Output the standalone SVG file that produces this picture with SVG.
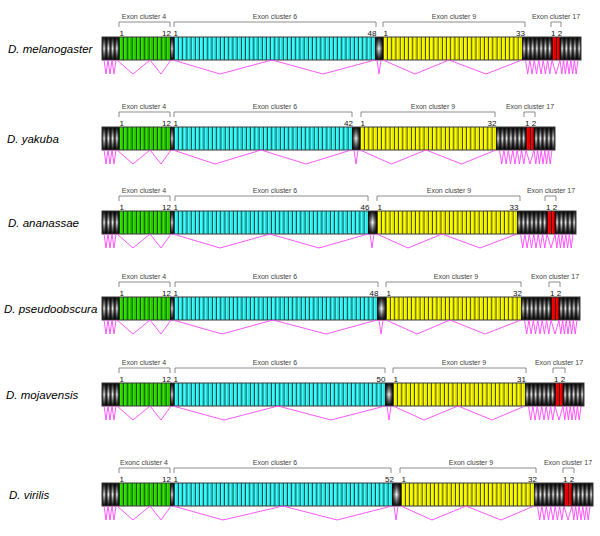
<svg xmlns="http://www.w3.org/2000/svg" width="600" height="536" viewBox="0 0 600 536">
<style>
.lbl{font-family:"Liberation Sans",Arial,sans-serif;font-size:7px;fill:#444;text-anchor:middle}
.num{font-family:"Liberation Sans",Arial,sans-serif;font-size:8px;fill:#111}
.end{text-anchor:end}
.sp{font-family:"Liberation Sans",Arial,sans-serif;font-size:11.5px;font-style:italic;fill:#000}
.br{fill:none;stroke:#808080;stroke-width:0.9}
.spl{fill:none;stroke:#ff45ff;stroke-width:0.9}
.ol{fill:none;stroke:#3a3a3a;stroke-width:1}
.st{fill:none;stroke-width:23}
.blk{stroke:#000}
.gB{fill:#33e600}.gD{stroke:#26bb00}
.cB{fill:#3dffff}.cD{stroke:#2ad4d4}
.yB{fill:#ffff00}.yD{stroke:#dcdc00}
.rB{fill:#ff0000}.rD{stroke:#d40000}
.cyl{fill:url(#cylP)}
.one{fill:url(#cylH)}
.sh{fill:url(#shV)}
</style>
<defs>
<linearGradient id="cylH" x1="0" y1="0" x2="1" y2="0">
<stop offset="0" stop-color="#000"/><stop offset="0.5" stop-color="#f6f6f6"/><stop offset="1" stop-color="#000"/>
</linearGradient>
<linearGradient id="shV" x1="0" y1="0" x2="0" y2="1">
<stop offset="0" stop-color="#000" stop-opacity="0.95"/>
<stop offset="0.25" stop-color="#000" stop-opacity="0.5"/>
<stop offset="0.5" stop-color="#000" stop-opacity="0"/>
<stop offset="0.75" stop-color="#000" stop-opacity="0.5"/>
<stop offset="1" stop-color="#000" stop-opacity="0.95"/>
</linearGradient>
<pattern id="cylP" patternUnits="userSpaceOnUse" width="4.25" height="100">
<rect width="4.25" height="100" fill="url(#cylH)"/>
</pattern>
<g id="headBar">
<rect class="cyl" transform="translate(102,0)" x="0" y="37" width="17" height="23"/>
<rect class="one" x="170" y="37" width="4" height="23"/>
<rect class="sh" x="102" y="37" width="17" height="23"/>
<rect class="sh" x="170" y="37" width="4" height="23"/>
<rect class="gB" x="119" y="37" width="51" height="23"/>
<path class="st gD" d="M119 48.5H170" stroke-dasharray="0 2.6 1.3 0.35"/>
<path class="st blk" d="M119 48.5H170" stroke-dasharray="0.7 3.55"/>
</g>
<g id="tailBar">
<rect class="cyl" transform="translate(522,0)" x="0" y="37" width="30" height="23"/>
<rect class="cyl" transform="translate(560,0)" x="0" y="37" width="21" height="23"/>
<rect class="sh" x="522" y="37" width="59" height="23"/>
<rect class="rB" x="552" y="37" width="8" height="23"/>
<path class="st rD" d="M552 48.5H560" stroke-dasharray="0 2.4 1.2 0.4"/>
<path class="st blk" d="M552 48.5H560" stroke-dasharray="0.7 3.3"/>
<path d="M560 37V60" stroke="#000" stroke-width="0.8"/>
</g>
<path id="headSpl" class="spl" d="M104 60L106 74L108 60L110 74L112 60L114 74L116 60M117 60L133 74L150 60L161 74L171 60"/>
<path id="tailSpl" class="spl" d="M525.5 60L527.7 74L529.9 60L532.1 74L534.3 60L536.5 74L538.8 60L541 74L543.2 60L545.4 74L547.6 60L549.8 74L552 60L556 74L560 60L561.8 74L563.6 60L565.4 74L567.2 60L569 74L570.8 60L572.6 74L574.4 60L576.2 74L578 60"/>
</defs>

<g id="row-melanogaster">
<text class="sp" x="8" y="52.5">D. melanogaster</text>
<text class="lbl" x="144" y="18.5">Exon cluster 4</text>
<text class="lbl" x="275" y="18.5">Exon cluster 6</text>
<text class="lbl" x="454" y="18.5">Exon cluster 9</text>
<text class="lbl" x="556" y="18.5">Exon cluster 17</text>
<path class="br" d="M119 27V22H170V27M174 27V22H376V27M383 27V22H525V27M551 27V22H561V27"/>
<text class="num" x="119.5" y="35.5">1</text>
<text class="num end" x="171" y="35.5">12</text>
<text class="num" x="173.5" y="35.5">1</text>
<text class="num end" x="376.5" y="35.5">48</text>
<text class="num" x="383.5" y="35.5">1</text>
<text class="num end" x="525" y="35.5">33</text>
<text class="num" x="551" y="35.5">1 2</text>
<use href="#headBar"/>
<rect class="one" x="375" y="37" width="8" height="23"/>
<rect class="sh" x="375" y="37" width="8" height="23"/>
<rect class="cB" x="174" y="37" width="201" height="23"/>
<path class="st cD" d="M174 48.5H375" stroke-dasharray="0 2.6 1.3 0.2875"/>
<path class="st blk" d="M174 48.5H375" stroke-dasharray="0.7 3.4875"/>
<rect class="yB" x="383" y="37" width="139" height="23"/>
<path class="st yD" d="M383 48.5H522" stroke-dasharray="0 2.6 1.3 0.3121"/>
<path class="st blk" d="M383 48.5H522" stroke-dasharray="0.7 3.5121"/>
<use href="#tailBar"/>
<rect class="ol" x="102" y="37" width="479" height="23"/>
</g>

<g id="row-yakuba" transform="translate(0,90)">
<text class="sp" x="7" y="52.5">D. yakuba</text>
<text class="lbl" x="144" y="18.5">Exon cluster 4</text>
<text class="lbl" x="275" y="18.5">Exon cluster 6</text>
<text class="lbl" x="433" y="18.5">Exon cluster 9</text>
<text class="lbl" x="530" y="18.5">Exon cluster 17</text>
<path class="br" d="M119 27V22H170V27M174 27V22H352V27M361 27V22H495V27M524 27V22H535V27"/>
<text class="num" x="119.5" y="35.5">1</text>
<text class="num end" x="171" y="35.5">12</text>
<text class="num" x="173.5" y="35.5">1</text>
<text class="num end" x="353" y="35.5">42</text>
<text class="num" x="360.5" y="35.5">1</text>
<text class="num end" x="496.5" y="35.5">32</text>
<text class="num" x="525" y="35.5">1 2</text>
<use href="#headBar"/>
<rect class="one" x="352" y="37" width="8" height="23"/>
<rect class="sh" x="352" y="37" width="8" height="23"/>
<rect class="cB" x="174" y="37" width="178" height="23"/>
<path class="st cD" d="M174 48.5H352" stroke-dasharray="0 2.6 1.3 0.3381"/>
<path class="st blk" d="M174 48.5H352" stroke-dasharray="0.7 3.5381"/>
<rect class="yB" x="360" y="37" width="136" height="23"/>
<path class="st yD" d="M360 48.5H496" stroke-dasharray="0 2.6 1.3 0.35"/>
<path class="st blk" d="M360 48.5H496" stroke-dasharray="0.7 3.55"/>
<use href="#tailBar" x="-26"/>
<rect class="ol" x="102" y="37" width="453" height="23"/>
</g>

<g id="row-ananassae" transform="translate(0,174)">
<text class="sp" x="8" y="52.5">D. ananassae</text>
<text class="lbl" x="144" y="18.5">Exon cluster 4</text>
<text class="lbl" x="275" y="18.5">Exon cluster 6</text>
<text class="lbl" x="449" y="18.5">Exon cluster 9</text>
<text class="lbl" x="551" y="18.5">Exon cluster 17</text>
<path class="br" d="M119 27V22H170V27M175 27V22H368V27M377 27V22H520V27M545 27V22H556V27"/>
<text class="num" x="119.5" y="35.5">1</text>
<text class="num end" x="171" y="35.5">12</text>
<text class="num" x="173.5" y="35.5">1</text>
<text class="num end" x="369.5" y="35.5">46</text>
<text class="num" x="377.5" y="35.5">1</text>
<text class="num end" x="518.5" y="35.5">33</text>
<text class="num" x="546" y="35.5">1 2</text>
<use href="#headBar"/>
<rect class="one" x="368" y="37" width="9" height="23"/>
<rect class="sh" x="368" y="37" width="9" height="23"/>
<rect class="cB" x="174" y="37" width="194" height="23"/>
<path class="st cD" d="M174 48.5H368" stroke-dasharray="0 2.6 1.3 0.3174"/>
<path class="st blk" d="M174 48.5H368" stroke-dasharray="0.7 3.5174"/>
<rect class="yB" x="377" y="37" width="140" height="23"/>
<path class="st yD" d="M377 48.5H517" stroke-dasharray="0 2.6 1.3 0.3424"/>
<path class="st blk" d="M377 48.5H517" stroke-dasharray="0.7 3.5424"/>
<use href="#tailBar" x="-5"/>
<rect class="ol" x="102" y="37" width="474" height="23"/>
</g>

<g id="row-pseudoobscura" transform="translate(0,260)">
<text class="sp" x="4" y="52.5">D. pseudoobscura</text>
<text class="lbl" x="144" y="18.5">Exon cluster 4</text>
<text class="lbl" x="275" y="18.5">Exon cluster 6</text>
<text class="lbl" x="456" y="18.5">Exon cluster 9</text>
<text class="lbl" x="555" y="18.5">Exon cluster 17</text>
<path class="br" d="M119 27V22H170V27M175 27V22H378V27M386 27V22H521V27M549 27V22H560V27"/>
<text class="num" x="119.5" y="35.5">1</text>
<text class="num end" x="171" y="35.5">12</text>
<text class="num" x="173.5" y="35.5">1</text>
<text class="num end" x="378.5" y="35.5">48</text>
<text class="num" x="386.5" y="35.5">1</text>
<text class="num end" x="522" y="35.5">32</text>
<text class="num" x="550" y="35.5">1 2</text>
<use href="#headBar"/>
<rect class="one" x="377" y="37" width="9" height="23"/>
<rect class="sh" x="377" y="37" width="9" height="23"/>
<rect class="cB" x="174" y="37" width="203" height="23"/>
<path class="st cD" d="M174 48.5H377" stroke-dasharray="0 2.6 1.3 0.3292"/>
<path class="st blk" d="M174 48.5H377" stroke-dasharray="0.7 3.5292"/>
<rect class="yB" x="386" y="37" width="135" height="23"/>
<path class="st yD" d="M386 48.5H521" stroke-dasharray="0 2.6 1.3 0.31875"/>
<path class="st blk" d="M386 48.5H521" stroke-dasharray="0.7 3.51875"/>
<use href="#tailBar" x="-1"/>
<rect class="ol" x="102" y="37" width="478" height="23"/>
</g>

<g id="row-mojavensis" transform="translate(0,346)">
<text class="sp" x="6" y="52.5">D. mojavensis</text>
<text class="lbl" x="144" y="18.5">Exon cluster 4</text>
<text class="lbl" x="275" y="18.5">Exon cluster 6</text>
<text class="lbl" x="464" y="18.5">Exon cluster 9</text>
<text class="lbl" x="559" y="18.5">Exon cluster 17</text>
<path class="br" d="M119 27V22H170V27M175 27V22H385V27M393 27V22H526V27M553 27V22H565V27"/>
<text class="num" x="119.5" y="35.5">1</text>
<text class="num end" x="171" y="35.5">12</text>
<text class="num" x="173.5" y="35.5">1</text>
<text class="num end" x="385.5" y="35.5">50</text>
<text class="num" x="393.5" y="35.5">1</text>
<text class="num end" x="526" y="35.5">31</text>
<text class="num" x="554" y="35.5">1 2</text>
<use href="#headBar"/>
<rect class="one" x="385" y="37" width="8" height="23"/>
<rect class="sh" x="385" y="37" width="8" height="23"/>
<rect class="cB" x="174" y="37" width="211" height="23"/>
<path class="st cD" d="M174 48.5H385" stroke-dasharray="0 2.6 1.3 0.32"/>
<path class="st blk" d="M174 48.5H385" stroke-dasharray="0.7 3.52"/>
<rect class="yB" x="393" y="37" width="132" height="23"/>
<path class="st yD" d="M393 48.5H525" stroke-dasharray="0 2.6 1.3 0.3581"/>
<path class="st blk" d="M393 48.5H525" stroke-dasharray="0.7 3.5581"/>
<use href="#tailBar" x="3"/>
<rect class="ol" x="102" y="37" width="482" height="23"/>
</g>

<g id="row-virilis" transform="translate(0,446)">
<text class="sp" x="9" y="52.5">D. virilis</text>
<text class="lbl" x="144" y="18.5">Exonc cluster 4</text>
<text class="lbl" x="275" y="18.5">Exon cluster 6</text>
<text class="lbl" x="471" y="18.5">Exon cluster 9</text>
<text class="lbl" x="568" y="18.5">Exon cluster 17</text>
<path class="br" d="M119 27V22H170V27M174 27V22H391V27M400 27V22H536V27M563 27V22H574V27"/>
<text class="num" x="119.5" y="35.5">1</text>
<text class="num end" x="171" y="35.5">12</text>
<text class="num" x="173.5" y="35.5">1</text>
<text class="num end" x="394" y="35.5">52</text>
<text class="num" x="401.5" y="35.5">1</text>
<text class="num end" x="537" y="35.5">32</text>
<text class="num" x="563" y="35.5">1 2</text>
<use href="#headBar"/>
<rect class="one" x="392" y="37" width="9" height="23"/>
<rect class="sh" x="392" y="37" width="9" height="23"/>
<rect class="cB" x="174" y="37" width="218" height="23"/>
<path class="st cD" d="M174 48.5H392" stroke-dasharray="0 2.6 1.3 0.2923"/>
<path class="st blk" d="M174 48.5H392" stroke-dasharray="0.7 3.4923"/>
<rect class="yB" x="401" y="37" width="133" height="23"/>
<path class="st yD" d="M401 48.5H534" stroke-dasharray="0 2.6 1.3 0.25625"/>
<path class="st blk" d="M401 48.5H534" stroke-dasharray="0.7 3.45625"/>
<use href="#tailBar" x="12"/>
<rect class="ol" x="102" y="37" width="491" height="23"/>
</g>

<g id="splicing">
<g>
<use href="#headSpl"/>
<path class="spl" d="M173 60L220 74L272 60L323 74L375 60M377 60L379 74L381 60M383 60L415 74L449 60L486 74L522 60"/>
<use href="#tailSpl"/>
</g>
<g transform="translate(0,90)">
<use href="#headSpl"/>
<path class="spl" d="M173 60L215 74L261 60L306 74L351 60M354 60L356 74L358 60M360 60L391.5 74L426 60L461.5 74L496 60"/>
<use href="#tailSpl" x="-26"/>
</g>
<g transform="translate(0,174)">
<use href="#headSpl"/>
<path class="spl" d="M173 60L220 74L270 60L319 74L368 60M370 60L372 74L374 60M377 60L408 74L442 60L480 74L517 60"/>
<use href="#tailSpl" x="-5"/>
</g>
<g transform="translate(0,260)">
<use href="#headSpl"/>
<path class="spl" d="M173 60L222 74L273 60L326 74L377 60M379 60L381 74L383 60M386 60L417 74L450 60L485 74L521 60"/>
<use href="#tailSpl" x="-1"/>
</g>
<g transform="translate(0,346)">
<use href="#headSpl"/>
<path class="spl" d="M173 60L224 74L278 60L331 74L385 60M387 60L389 74L391 60M393 60L424 74L458 60L492 74L525 60"/>
<use href="#tailSpl" x="3"/>
</g>
<g transform="translate(0,446)">
<use href="#headSpl"/>
<path class="spl" d="M173 60L223 74L283 60L337 74L392 60M394 60L396 74L398 60M401 60L432 74L466 60L501 74L534 60"/>
<use href="#tailSpl" x="12"/>
</g>
</g>
</svg>
